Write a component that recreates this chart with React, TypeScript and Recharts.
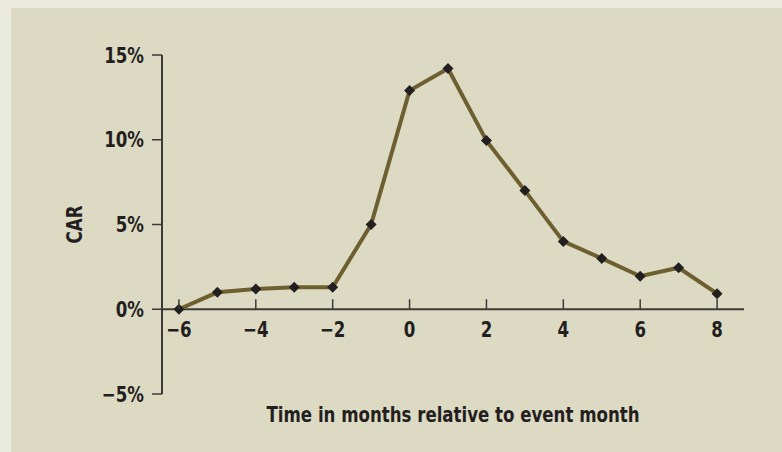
import React from 'react';
import { LineChart, Line, XAxis, YAxis, ReferenceLine } from 'recharts';

const months = [-6, -5, -4, -3, -2, -1, 0, 1, 2, 3, 4, 5, 6, 7, 8];
const carValues = [0, 1.0, 1.2, 1.3, 1.3, 5.0, 12.9, 14.2, 9.95, 7.0, 4.0, 3.0, 1.95, 2.45, 0.92];
const xTicks = [-6, -4, -2, 0, 2, 4, 6, 8];
const yTicks = [-5, 0, 5, 10, 15];
const xLabel = 'Time in months relative to event month';
const yLabel = 'CAR';

const data = months.map((m, i) => ({ month: m, car: carValues[i] }));

const W = 782;
const H = 452;
const MARGIN = { top: 55, right: 38, bottom: 18, left: 64 };
const X_AXIS_H = 40;
const Y_AXIS_W = 98;
const Y_MIN = -5;
const Y_MAX = 15;
const PLOT_H = H - MARGIN.top - MARGIN.bottom - X_AXIS_H;
const ZERO_OFFSET = (PLOT_H * (0 - Y_MIN)) / (Y_MAX - Y_MIN);

const FONT = '"DejaVu Sans Condensed", "Liberation Sans Narrow", "Arial Narrow", sans-serif';
const FS = 21;
const SX = 0.88;
const TEXT = '#231f20';
const AXIS = '#3b3a38';
const LINE = '#6d5f2f';

const fmtNum = (v: number) => (v < 0 ? '\u2212' + Math.abs(v) : String(v));

const CondText = ({ x, y, anchor, rotate, children }: any) => (
  <text
    transform={`translate(${x} ${y}) ${rotate ? `rotate(${rotate})` : ''} scale(${SX} 1)`}
    x={0}
    y={0}
    dy="0.36em"
    textAnchor={anchor}
    fontFamily={FONT}
    fontWeight="bold"
    fontSize={FS}
    fill={TEXT}
  >
    {children}
  </text>
);

const XTick = (props: any) => {
  const { x, y, payload } = props;
  const zy = y - ZERO_OFFSET;
  return (
    <g>
      <line x1={x} x2={x} y1={zy} y2={zy - 10} stroke={AXIS} strokeWidth={1.5} />
      <CondText x={x} y={zy + 20} anchor="middle">
        {fmtNum(payload.value)}
      </CondText>
    </g>
  );
};

const YTick = (props: any) => {
  const { x, y, payload } = props;
  return (
    <CondText x={x} y={y} anchor="end">
      {fmtNum(payload.value) + '%'}
    </CondText>
  );
};

const Diamond = (props: any) => {
  const { cx, cy } = props;
  if (cx == null || cy == null) return null;
  const r = 5.5;
  return <polygon points={`${cx},${cy - r} ${cx + r},${cy} ${cx},${cy + r} ${cx - r},${cy}`} fill={TEXT} />;
};

const CarLabel = (props: any) => {
  const vb = props.viewBox || {};
  return (
    <CondText x={74} y={vb.y + vb.height / 2} anchor="middle" rotate={-90}>
      {yLabel}
    </CondText>
  );
};

const TimeLabel = (props: any) => {
  const vb = props.viewBox || {};
  return (
    <CondText x={vb.x + vb.width / 2} y={vb.y + vb.height / 2} anchor="middle">
      {xLabel}
    </CondText>
  );
};

export default function App() {
  return (
    <div style={{ position: 'absolute', left: 0, top: 0, width: W, height: H, background: '#ebeadf', overflow: 'hidden' }}>
      <div style={{ position: 'absolute', left: 11, top: 8, right: 0, bottom: 0, background: '#dddac4' }} />
      <div style={{ position: 'absolute', left: 0, top: 0 }}>
        <LineChart width={W} height={H} data={data} margin={MARGIN}>
          <XAxis
            type="number"
            dataKey="month"
            domain={[-6.44, 8.7]}
            allowDataOverflow
            ticks={xTicks}
            axisLine={false}
            tickLine={false}
            tickSize={0}
            tickMargin={0}
            height={X_AXIS_H}
            tick={<XTick />}
            interval={0}
            label={<TimeLabel />}
          />
          <YAxis
            type="number"
            domain={[Y_MIN, Y_MAX]}
            ticks={yTicks}
            width={Y_AXIS_W}
            interval={0}
            axisLine={{ stroke: AXIS, strokeWidth: 2 }}
            tickLine={{ stroke: AXIS, strokeWidth: 1.5 }}
            tickSize={10}
            tickMargin={8}
            tick={<YTick />}
            label={<CarLabel />}
          />
          <ReferenceLine y={0} stroke={AXIS} strokeWidth={2} />
          <Line
            type="linear"
            dataKey="car"
            stroke={LINE}
            strokeWidth={4}
            dot={<Diamond />}
            activeDot={false}
            isAnimationActive={false}
          />
        </LineChart>
      </div>
    </div>
  );
}
